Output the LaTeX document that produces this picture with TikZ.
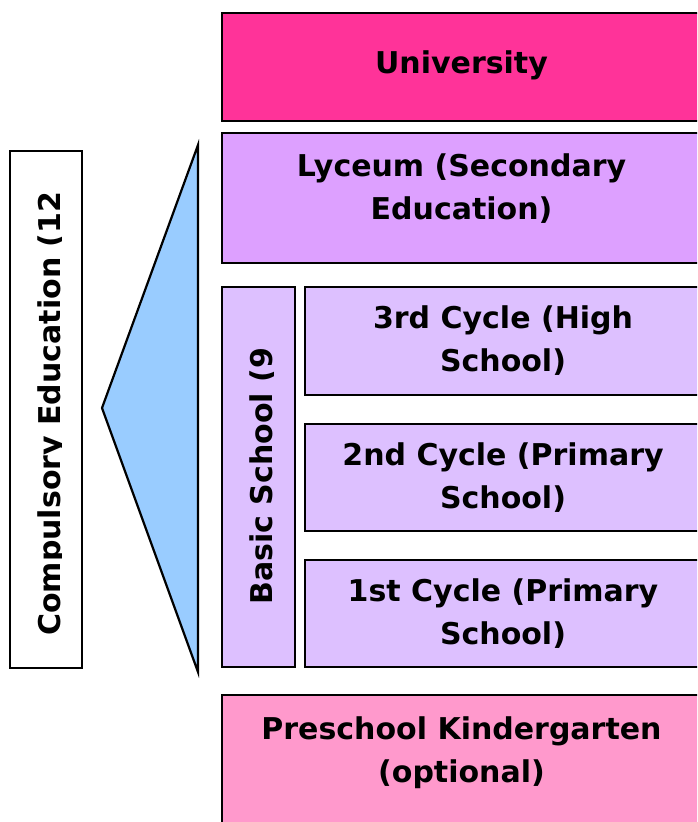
\documentclass[tikz,border=0pt]{standalone}
\usepackage{fontspec}
\setmainfont{DejaVu Sans}

\definecolor{uniPink}{HTML}{FF3399}
\definecolor{lyceumViolet}{HTML}{DDA0FF}
\definecolor{cycleLilac}{HTML}{DDC0FF}
\definecolor{prePink}{HTML}{FF99CC}
\definecolor{wedgeBlue}{HTML}{99CCFF}

\begin{document}
\begin{tikzpicture}[x=1pt, y=1pt,
    level/.style={draw=black, line width=2.2pt, inner sep=0pt, align=center,
        font=\fontsize{30}{43}\selectfont\bfseries},
    leveltext/.style={inner sep=0pt, align=center,
        font=\fontsize{30}{43}\selectfont\bfseries},
    vlabel/.style={inner sep=0pt, rotate=90, anchor=base west,
        font=\fontsize{30}{43}\selectfont\bfseries}]
        \useasboundingbox (0,0) rectangle (697,822);
        \clip (0,0) rectangle (697,822);

        % stages on the right
        \node[level, fill=uniPink, minimum width=479, minimum height=108] (uni) at (461.5,755) {};
        \node[leveltext] (unitext) at ([yshift=2]uni.center) {University};
        \node[level, fill=lyceumViolet, minimum width=479, minimum height=130] (lyceum) at (461.5,624) {};
        \node[leveltext] (lyceumtext) at ([yshift=9]lyceum.center) {Lyceum (Secondary\\Education)};
        \node[level, fill=cycleLilac, minimum width=396, minimum height=108] (third) at (503,481) {3rd Cycle (High\\School)};
        \node[level, fill=cycleLilac, minimum width=396, minimum height=107] (second) at (503,344.5) {2nd Cycle (Primary\\School)};
        \node[level, fill=cycleLilac, minimum width=396, minimum height=107] (first) at (503,208.5) {1st Cycle (Primary\\School)};
        \node[level, fill=prePink, minimum width=479, minimum height=130] (pre) at (461.5,62) {};
        \node[leveltext] (pretext) at ([yshift=7]pre.center) {Preschool Kindergarten\\(optional)};

        % basic school bar
        \node[level, fill=cycleLilac, minimum width=73, minimum height=380] (basic) at (258.5,345) {};
        \begin{scope}
            \clip (224,157) rectangle (273.5,474);
            \node[vlabel] (basiclabel) at (272,217) {Basic School (9 years)};
        \end{scope}

        % compulsory education bar and wedge
        \node[level, fill=white, minimum width=72, minimum height=517] (comp) at (46,412.5) {};
        \begin{scope}
            \clip (12,156) rectangle (61.5,639);
            \node[vlabel] (complabel) at (60,186) {Compulsory Education (12 years)};
        \end{scope}

        \coordinate (wtop) at (198,677);
        \coordinate (wtip) at (102,414);
        \coordinate (wbot) at (198,150);
        \draw[fill=wedgeBlue, line width=2.2pt, line join=miter] (wtop) -- (wtip) -- (wbot) -- cycle;
    \end{tikzpicture}
\end{document}
